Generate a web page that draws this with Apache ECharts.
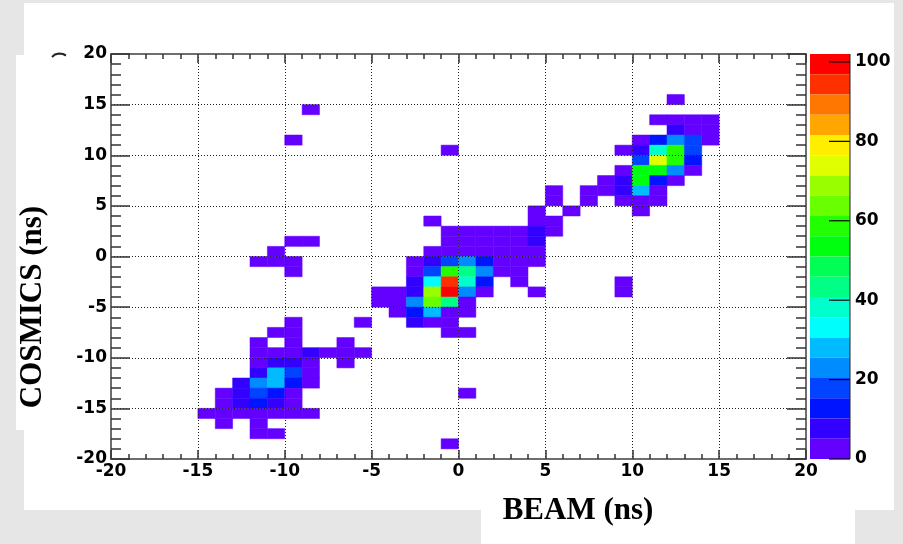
<!DOCTYPE html>
<html>
<head>
<meta charset="utf-8">
<title>BEAM vs COSMICS</title>
<script src="https://cdn.jsdelivr.net/npm/echarts@6/dist/echarts.min.js"></script>
<style>
  html, body { margin: 0; padding: 0; background: #e6e6e6; }
  #chart { width: 903px; height: 544px; }
</style>
</head>
<body>
<div id="chart"></div>
<script>
// 1 ns x 1 ns bins, given by lower-left corner: [beam, cosmics, entries]
const strayBins = [
  [-9, 14, 1], [-10, 11, 1], [-1, 10, 1], [12, 15, 1],
  [-10, 1, 1], [-9, 1, 1], [-11, 0, 1], [-12, -1, 1], [-11, -1, 1],
  [-10, -1, 2], [-10, -2, 1], [-6, -7, 1], [9, -3, 1], [9, -4, 1],
  [0, -14, 1], [-1, -19, 1]
];

const lowerLeftCluster = [
  [-10, -7, 3],
  [-11, -8, 2], [-10, -8, 4],
  [-12, -9, 3], [-10, -9, 5], [-7, -9, 2],
  [-12, -10, 4], [-11, -10, 5], [-10, -10, 5], [-9, -10, 8], [-8, -10, 3], [-7, -10, 4], [-6, -10, 2],
  [-12, -11, 5], [-11, -11, 9], [-10, -11, 8], [-9, -11, 4], [-7, -11, 2],
  [-12, -12, 9], [-11, -12, 28], [-10, -12, 18], [-9, -12, 4],
  [-13, -13, 8], [-12, -13, 23], [-11, -13, 29], [-10, -13, 13], [-9, -13, 3],
  [-14, -14, 3], [-13, -14, 9], [-12, -14, 17], [-11, -14, 12], [-10, -14, 4],
  [-14, -15, 4], [-13, -15, 9], [-12, -15, 13], [-11, -15, 8], [-10, -15, 3],
  [-15, -16, 2], [-14, -16, 3], [-13, -16, 4], [-12, -16, 3], [-11, -16, 4], [-10, -16, 3], [-9, -16, 2],
  [-14, -17, 2], [-12, -17, 3],
  [-12, -18, 2], [-11, -18, 2]
];

const centralCluster = [
  [-2, 3, 2], [4, 3, 3], [5, 3, 2],
  [-1, 2, 3], [0, 2, 4], [1, 2, 4], [2, 2, 3], [3, 2, 4], [4, 2, 7], [5, 2, 2],
  [-1, 1, 4], [0, 1, 5], [1, 1, 4], [2, 1, 5], [3, 1, 4], [4, 1, 6],
  [-2, 0, 3], [-1, 0, 5], [0, 0, 5], [1, 0, 4], [2, 0, 4], [3, 0, 5], [4, 0, 3],
  [-3, -1, 3], [-2, -1, 9], [-1, -1, 17], [0, -1, 22], [1, -1, 12], [2, -1, 5], [3, -1, 4], [4, -1, 2],
  [-3, -2, 4], [-2, -2, 18], [-1, -2, 58], [0, -2, 43], [1, -2, 24], [2, -2, 4], [3, -2, 3],
  [-3, -3, 8], [-2, -3, 33], [-1, -3, 94], [0, -3, 38], [1, -3, 13], [3, -3, 2],
  [-5, -4, 3], [-4, -4, 4], [-3, -4, 9], [-2, -4, 69], [-1, -4, 102], [0, -4, 23], [1, -4, 5], [4, -4, 2],
  [-5, -5, 4], [-4, -5, 3], [-3, -5, 22], [-2, -5, 64], [-1, -5, 44], [0, -5, 5],
  [-4, -6, 3], [-3, -6, 14], [-2, -6, 27], [-1, -6, 4], [0, -6, 5],
  [-3, -7, 7], [-2, -7, 3], [-1, -7, 4],
  [-1, -8, 2], [0, -8, 3]
];

const upperRightCluster = [
  [11, 13, 3], [12, 13, 4], [13, 13, 4], [14, 13, 3],
  [12, 12, 8], [13, 12, 5], [14, 12, 4],
  [10, 11, 3], [11, 11, 13], [12, 11, 23], [13, 11, 18], [14, 11, 4],
  [9, 10, 2], [10, 10, 9], [11, 10, 38], [12, 10, 59], [13, 10, 17],
  [10, 9, 18], [11, 9, 74], [12, 9, 58], [13, 9, 12],
  [9, 8, 3], [10, 8, 54], [11, 8, 55], [12, 8, 22], [13, 8, 5],
  [8, 7, 3], [9, 7, 7], [10, 7, 53], [11, 7, 13], [12, 7, 4],
  [5, 6, 2], [7, 6, 3], [8, 6, 4], [9, 6, 8], [10, 6, 28], [11, 6, 4],
  [5, 5, 2], [7, 5, 2], [9, 5, 4], [10, 5, 5], [11, 5, 3],
  [4, 4, 2], [6, 4, 2], [10, 4, 3]
];

const zTicks = [0, 20, 40, 60, 80, 100];
const zMax = 102;

// ROOT "pretty" palette, 20 contour levels, violet -> red
const palette = [
  '#6300ff', '#3300ff', '#0014ff', '#0044ff', '#008bff',
  '#00bbff', '#00fffc', '#00ffcc', '#00ff85', '#00ff55',
  '#00ff0e', '#22ff00', '#69ff00', '#99ff00', '#e0ff00',
  '#ffee00', '#ffa700', '#ff7700', '#ff3000', '#ff0000'
];

const bins = [].concat(strayBins, lowerLeftCluster, centralCluster, upperRightCluster);

const step = zMax / palette.length;
const pieces = palette.map(function (c, i) {
  if (i === palette.length - 1) return { gte: i * step, lte: zMax, color: c };
  return { gte: i * step, lt: (i + 1) * step, color: c };
});

const labelFont = { fontFamily: 'DejaVu Sans', fontWeight: 'bold', fontSize: 17, color: '#000' };
const gridDots = { show: true, lineStyle: { color: '#222', width: 1, type: [1, 2] } };

function frameAxis(position, isX, withLabels) {
  return {
    type: 'value',
    gridIndex: 0,
    position: position,
    min: -20,
    max: 20,
    interval: 5,
    z: 6,
    axisLine: { show: true, onZero: false, lineStyle: { color: '#6e6e6e', width: 2 } },
    axisTick: { show: true, inside: true, length: isX ? 9 : 19, lineStyle: { color: '#333', width: 1.5 } },
    minorTick: { show: true, splitNumber: 5, length: isX ? 5 : 10, lineStyle: { color: '#333', width: 1.5 } },
    splitLine: withLabels ? gridDots : { show: false },
    axisLabel: withLabels
      ? Object.assign({ show: true, margin: 4, showMinLabel: true, showMaxLabel: true }, labelFont)
      : { show: false }
  };
}

function renderBin(params, api) {
  const p0 = api.coord([api.value(0), api.value(1) + 1]);
  const p1 = api.coord([api.value(0) + 1, api.value(1)]);
  const color = api.visual('color');
  return {
    type: 'rect',
    shape: { x: p0[0], y: p0[1], width: p1[0] - p0[0], height: p1[1] - p0[1] },
    style: { fill: color, stroke: color, lineWidth: 0.5 }
  };
}

const chart = echarts.init(document.getElementById('chart'), null, { renderer: 'canvas' });

const decorations = [
  { type: 'rect', z: -10, shape: { x: 24, y: 3, width: 870, height: 507 }, style: { fill: '#fff' } },
  { type: 'rect', z: -10, shape: { x: 16, y: 55, width: 20, height: 375 }, style: { fill: '#fff' } },
  { type: 'rect', z: -10, shape: { x: 481, y: 509, width: 374, height: 35 }, style: { fill: '#fff' } },
  {
    type: 'polyline', z: 10,
    shape: { points: [[52, 57], [55, 54.5], [59, 53.5], [63, 54], [66, 55.5]] },
    style: { stroke: '#222', lineWidth: 2, fill: null }
  },
  {
    type: 'text', z: 10, x: 33, y: 307, rotation: Math.PI / 2,
    style: { text: 'COSMICS (ns)', font: 'bold 31px "Liberation Serif"', fill: '#000', align: 'center', verticalAlign: 'middle' }
  },
  {
    type: 'text', z: 10, x: 578, y: 511,
    style: { text: 'BEAM (ns)', font: 'bold 31px "Liberation Serif"', fill: '#000', align: 'center', verticalAlign: 'middle' }
  }
];

chart.setOption({
  animation: false,
  backgroundColor: 'transparent',
  grid: [
    { left: 111, top: 54, width: 695, height: 405, containLabel: false, outerBoundsMode: 'none' },
    { left: 810, top: 54, width: 40, height: 405, containLabel: false, outerBoundsMode: 'none' }
  ],
  xAxis: [
    frameAxis('bottom', true, true),
    frameAxis('top', true, false),
    { type: 'value', gridIndex: 1, show: false, min: 0, max: 1 }
  ],
  yAxis: [
    frameAxis('left', false, true),
    frameAxis('right', false, false),
    {
      type: 'value',
      gridIndex: 1,
      position: 'right',
      min: 0,
      max: zMax,
      interval: 20,
      z: 10,
      axisLine: { show: false },
      axisTick: { show: false },
      axisLabel: Object.assign({ show: true, margin: 5, customValues: zTicks }, labelFont),
      splitLine: { show: false }
    }
  ],
  visualMap: {
    type: 'piecewise',
    pieces: pieces,
    seriesIndex: 0,
    dimension: 2,
    orient: 'vertical',
    left: 810,
    top: 54,
    padding: 0,
    itemWidth: 40,
    itemHeight: 405 / palette.length,
    itemGap: 0,
    itemSymbol: 'rect',
    showLabel: false,
    hoverLink: false,
    selectedMode: false,
    z: 1
  },
  series: [{
    type: 'custom',
    xAxisIndex: 0,
    yAxisIndex: 0,
    dimensions: ['beam', 'cosmics', 'entries'],
    encode: { x: 0, y: 1, tooltip: 2 },
    renderItem: renderBin,
    data: bins,
    z: 2
  }],
  graphic: decorations
});

// colour-bar edge and ticks, placed through the colour axis scale, drawn above the bar
const barTop = chart.convertToPixel({ yAxisIndex: 2 }, zMax);
const barBottom = chart.convertToPixel({ yAxisIndex: 2 }, 0);
const barRight = 850;
const zTickLines = zTicks.map(function (v) {
  const y = chart.convertToPixel({ yAxisIndex: 2 }, v);
  return {
    type: 'line', z: 100,
    shape: { x1: barRight - 21, y1: y, x2: barRight, y2: y },
    style: { stroke: '#000', lineWidth: 1.2 }
  };
});
zTickLines.push({
  type: 'line', z: 100,
  shape: { x1: barRight, y1: barTop, x2: barRight, y2: barBottom },
  style: { stroke: '#222', lineWidth: 1 }
});
chart.setOption({ graphic: decorations.concat(zTickLines) });
</script>
</body>
</html>
